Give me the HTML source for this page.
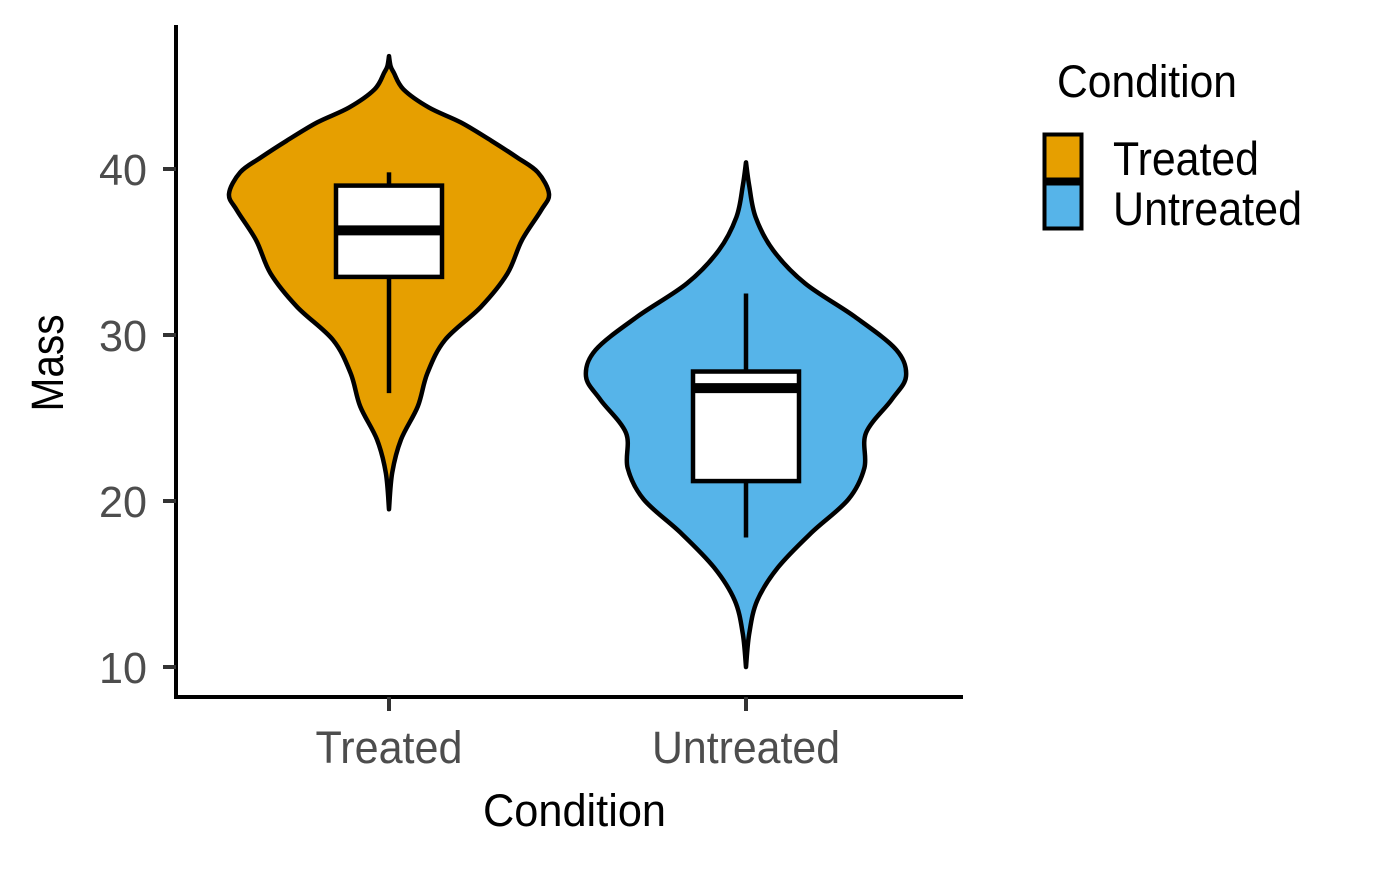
<!DOCTYPE html>
<html><head><meta charset="utf-8"><style>
html,body{margin:0;padding:0;background:#fff;}
svg text{font-family:"Liberation Sans Narrow","Liberation Sans",sans-serif;}
</style></head><body>
<svg id="chart" width="1400" height="866" viewBox="0 0 1400 866" xmlns="http://www.w3.org/2000/svg">
<g id="plot"></g>
<g id="axes"></g>
<g id="legend">
  <text x="1057" y="97" font-size="45" textLength="180" lengthAdjust="spacingAndGlyphs">Condition</text>
  <rect x="1044.5" y="134.5" width="37" height="45" fill="#E69F00" stroke="#000" stroke-width="4"/>
  <rect x="1044.5" y="183.5" width="37" height="45" fill="#56B4E9" stroke="#000" stroke-width="4"/>
  <text x="1113" y="175" font-size="47" textLength="146" lengthAdjust="spacingAndGlyphs">Treated</text>
  <text x="1113" y="225" font-size="47" textLength="189" lengthAdjust="spacingAndGlyphs">Untreated</text>
</g>
</svg>
<script>
const categories = ["Treated", "Untreated"];
const colors = ["#E69F00", "#56B4E9"];
const yTicks = [10, 20, 30, 40];
// violin profiles: mass levels and relative half-width (0..1)
const treatedMass =  [46.8, 46.2, 45.8, 44.8, 43.7, 42.8, 41.7, 40.7, 39.8, 38.5, 37.5, 35.7, 33.7, 31.7, 29.7, 27.7, 25.7, 23.7, 21.7, 19.5];
const treatedWidth = [0,    0.01, 0.03, 0.09, 0.25, 0.45, 0.64, 0.8,  0.93, 1.0,  0.95, 0.83, 0.74, 0.575,0.35, 0.24, 0.18, 0.075,0.02, 0];
const untreatedMass =  [40.4, 39.0, 37.1, 35.1, 33.1, 31.1, 29.1, 27.5, 26.1, 24.1, 22.0, 20.1, 18.1, 16.0, 14.0, 12.0, 10.0];
const untreatedWidth = [0,    0.02, 0.06, 0.17, 0.37, 0.68, 0.94, 1.0,  0.91, 0.75, 0.74, 0.64, 0.41, 0.2,  0.07, 0.02, 0];
// box stats: [whiskerLow, q1, median, q3, whiskerHigh]
const treatedBox = [26.5, 33.5, 36.3, 39.0, 39.8];
const untreatedBox = [17.8, 21.2, 26.8, 27.8, 32.5];

const NS = "http://www.w3.org/2000/svg";
const yScale = v => 169 + (40 - v) * 16.6;
const xScale = i => 389 + i * 357;
const maxHalf = 160, boxHalf = 53;
function mk(tag, attrs, parent){const e=document.createElementNS(NS,tag);for(const k in attrs)e.setAttribute(k,attrs[k]);parent.appendChild(e);return e;}

function smoothPath(pts){
  let d = "M" + pts[0][0] + "," + pts[0][1];
  for(let i=0;i<pts.length-1;i++){
    const p0=pts[Math.max(0,i-1)],p1=pts[i],p2=pts[i+1],p3=pts[Math.min(pts.length-1,i+2)];
    const c1=[p1[0]+(p2[0]-p0[0])/6,p1[1]+(p2[1]-p0[1])/6];
    const c2=[p2[0]-(p3[0]-p1[0])/6,p2[1]-(p3[1]-p1[1])/6];
    d+=" C"+c1+" "+c2+" "+p2;
  }
  return d;
}
const plot = document.getElementById("plot");
const violins = [[treatedMass,treatedWidth],[untreatedMass,untreatedWidth]];
const boxes = [treatedBox, untreatedBox];
violins.forEach((v,i)=>{
  const cx = xScale(i);
  const right = v[0].map((m,j)=>[cx + v[1][j]*maxHalf, yScale(m)]);
  const left = v[0].map((m,j)=>[cx - v[1][j]*maxHalf, yScale(m)]).reverse();
  const d = smoothPath(right) + " " + smoothPath(left).replace(/^M/,"L") + " Z";
  const p = mk("path",{d:d,fill:colors[i],stroke:"#000","stroke-width":4.5,"stroke-linejoin":"round"},plot);
  
  
  const b = boxes[i];
  const w1 = mk("line",{x1:cx,x2:cx,y1:yScale(b[0]),y2:yScale(b[1]),stroke:"#000","stroke-width":4.5},plot);
  
  
  const w2 = mk("line",{x1:cx,x2:cx,y1:yScale(b[3]),y2:yScale(b[4]),stroke:"#000","stroke-width":4.5},plot);
  
  
  const r = mk("rect",{x:cx-boxHalf,y:yScale(b[3]),width:boxHalf*2,height:yScale(b[1])-yScale(b[3]),fill:"#fff",stroke:"#000","stroke-width":4.5},plot);
  
  
  const md = mk("line",{x1:cx-boxHalf,x2:cx+boxHalf,y1:yScale(b[2]),y2:yScale(b[2]),stroke:"#000","stroke-width":10},plot);
  
  
});

const axes = document.getElementById("axes");
const ya = mk("line",{x1:176,x2:176,y1:25,y2:699,stroke:"#000","stroke-width":4},axes);


const xa = mk("line",{x1:174,x2:963,y1:697,y2:697,stroke:"#000","stroke-width":4},axes);


yTicks.forEach(t=>{
  const y = yScale(t);
  const tk = mk("line",{x1:163,x2:176,y1:y,y2:y,stroke:"#333","stroke-width":4},axes);
  
  
  const tx = mk("text",{x:147,y:y+16,"font-size":44,fill:"#4d4d4d","text-anchor":"end",textLength:48,lengthAdjust:"spacingAndGlyphs"},axes);
  tx.textContent = t;
  
  
});
const xLabW = [147, 188];
categories.forEach((c,i)=>{
  const x = xScale(i);
  const tk = mk("line",{x1:x,x2:x,y1:697,y2:711,stroke:"#333","stroke-width":4},axes);
  
  
  const tx = mk("text",{x:x,y:763,"font-size":45,fill:"#4d4d4d","text-anchor":"middle",textLength:xLabW[i],lengthAdjust:"spacingAndGlyphs"},axes);
  tx.textContent = c;
  
  
});
const xt = mk("text",{x:574.5,y:826,"font-size":45,fill:"#000","text-anchor":"middle",textLength:183,lengthAdjust:"spacingAndGlyphs"},axes);
xt.textContent = "Condition";


const yt = mk("text",{x:0,y:0,"font-size":45,fill:"#000","text-anchor":"middle",textLength:97,lengthAdjust:"spacingAndGlyphs",transform:"translate(63,363) rotate(-90)"},axes);
yt.textContent = "Mass";


</script>
</body></html>
